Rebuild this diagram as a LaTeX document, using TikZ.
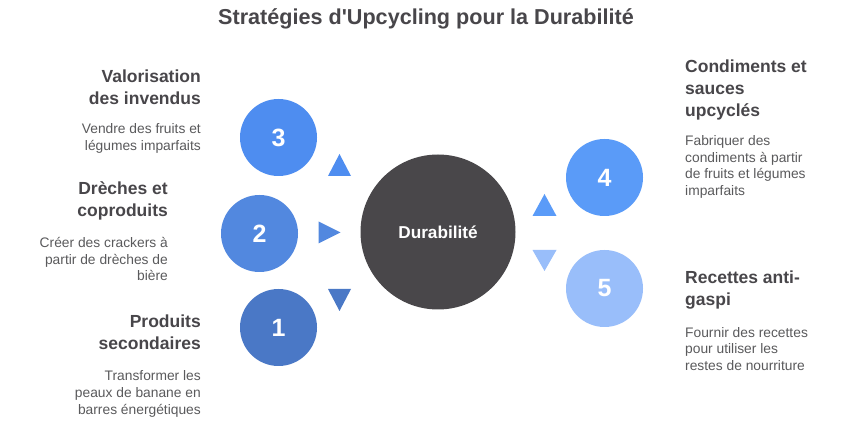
\documentclass[tikz,border=0pt]{standalone}
\usepackage{fontspec}
\setmainfont{Liberation Sans}
\usetikzlibrary{calc}
\begin{document}
\begin{tikzpicture}[x=1pt,y=-1pt,
  txt/.style={text=textdark,inner sep=0pt},
  head/.style={txt,font=\bfseries\fontsize{17.5}{22}\selectfont},
  desc/.style={inner sep=0pt,text=textgray,font=\fontsize{13.8}{16.7}\selectfont},
  num/.style={circle,minimum size=77pt,inner sep=0pt,text=white,font=\bfseries\fontsize{25}{25}\selectfont},
]
\definecolor{textdark}{HTML}{48464A}
\definecolor{textgray}{HTML}{5A5A5C}
\definecolor{cone}{HTML}{4A78C6}
\definecolor{ctwo}{HTML}{5288DF}
\definecolor{cthree}{HTML}{4E8DF0}
\definecolor{cfour}{HTML}{5A9BF8}
\definecolor{cfive}{HTML}{99BEFA}
\definecolor{ccenter}{HTML}{49474A}
\useasboundingbox[fill=white] (0,0) rectangle (860,430);

\node[txt,font=\bfseries\fontsize{21.6}{24}\selectfont,anchor=base] (title) at (426,25) {Stratégies d\textquotesingle Upcycling pour la Durabilité};

\node[circle,fill=ccenter,minimum size=155pt,inner sep=0pt,text=white,font=\bfseries\fontsize{17.2}{20}\selectfont] (center) at (438,232) {Durabilité};

\node[num,fill=cthree] (n3) at (278.5,137.5) {3};
\node[num,fill=ctwo] (n2) at (259.5,233.5) {2};
\node[num,fill=cone] (n1) at (278.5,327.5) {1};
\node[num,fill=cfour] (n4) at (604.5,177.5) {4};
\node[num,fill=cfive] (n5) at (604.5,288.5) {5};

% triangles
\coordinate (t3) at (339.5,165);
\coordinate (t2) at (329.5,232.5);
\coordinate (t1) at (339.5,300);
\coordinate (t4) at (544.5,205);
\coordinate (t5) at (544.5,260.5);
\fill[cthree] ($(t3)+(-11.5,11)$) -- ($(t3)+(11.5,11)$) -- ($(t3)+(0,-11)$) -- cycle;
\fill[ctwo] ($(t2)+(-11,-11)$) -- ($(t2)+(-11,11)$) -- ($(t2)+(11,0)$) -- cycle;
\fill[cone] ($(t1)+(-11.5,-11)$) -- ($(t1)+(11.5,-11)$) -- ($(t1)+(0,11)$) -- cycle;
\fill[cfour] ($(t4)+(-12,11)$) -- ($(t4)+(12,11)$) -- ($(t4)+(0,-11)$) -- cycle;
\fill[cfive] ($(t5)+(-12,-10.5)$) -- ($(t5)+(12,-10.5)$) -- ($(t5)+(0,10.5)$) -- cycle;

% left texts (base anchor = last line baseline)
\node[head,align=right,anchor=base east] (h3) at (201,105) {Valorisation\\des invendus};
\node[desc,align=right,anchor=base east] (d3) at (201,150.5) {Vendre des fruits et\\légumes imparfaits};
\node[head,align=right,anchor=base east] (h2) at (168,216.5) {Drèches et\\coproduits};
\node[desc,align=right,anchor=base east] (d2) at (168,281) {Créer des crackers à\\partir de drèches de\\bière};
\node[head,align=right,anchor=base east] (h1) at (201,350) {Produits\\secondaires};
\node[desc,align=right,anchor=base east] (d1) at (201,414) {Transformer les\\peaux de banane en\\barres énergétiques};

% right texts
\node[head,align=left,anchor=base west] (h4) at (685,116.5) {Condiments et\\sauces\\upcyclés};
\node[desc,align=left,anchor=base west] (d4) at (685,195.5) {Fabriquer des\\condiments à partir\\de fruits et légumes\\imparfaits};
\node[head,align=left,anchor=base west] (h5) at (685,305.5) {Recettes anti-\\gaspi};
\node[desc,align=left,anchor=base west] (d5) at (685,370.5) {Fournir des recettes\\pour utiliser les\\restes de nourriture};
\end{tikzpicture}
\end{document}
